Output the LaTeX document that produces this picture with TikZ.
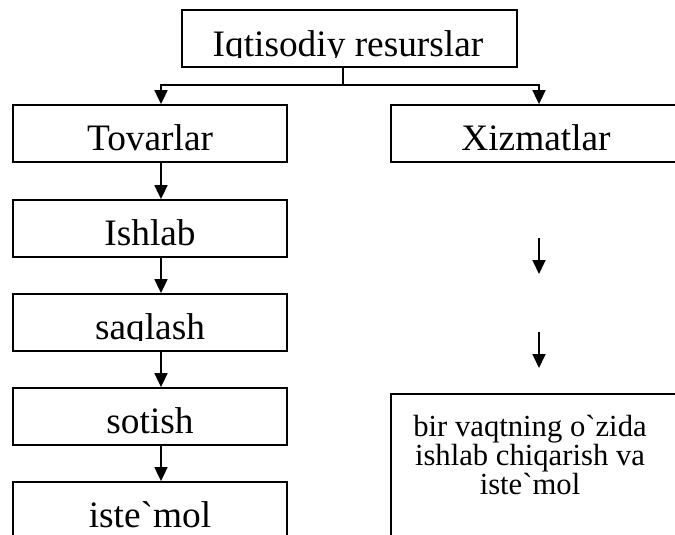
\documentclass[tikz,border=0pt]{standalone}
\usepackage{fontspec}
\setmainfont{Liberation Serif}[Ligatures=TeXOff]
\usetikzlibrary{arrows.meta,calc}

\tikzset{every picture/.style={line width=1.35pt}}
\tikzset{
  box/.style={draw, rectangle, inner sep=0pt, minimum width=205.5pt, minimum height=42.75pt,
    text height=24.75pt, text depth=0pt, font=\fontsize{28}{32}\selectfont},
  lbl/.style={inner sep=0pt, font=\fontsize{28}{32}\selectfont},
  arr/.style={-{Triangle[length=10.5pt,width=9.75pt]}}
}

\begin{document}
\begin{tikzpicture}[x=0.75pt,y=0.75pt,yscale=-1,xscale=1]
	\clip (0,0) rectangle (675,535);

	% Boxes
	\node[box, minimum width=251.25pt] (res) at (349.5,38.5) {};
	\node[box] (tov) at (150,133.5) {Tovarlar};
	\node[box, minimum width=217.5pt] (xiz) at (536,133.5) {Xizmatlar};
	\node[box] (ish) at (150,228.5) {Ishlab};
	\node[box] (saq) at (150,322.5) {};
	\node[box] (sot) at (150,416.5) {sotish};
	\node[box] (ist) at (150,510.5) {iste`mol};
	\node[box, minimum width=217.5pt, minimum height=127.5pt] (bir) at (536,479) {};

	% Text cut off at the bottom of its box
	\begin{scope}
		\clip (res.north west) rectangle ($(res.south east)+(0,-10)$);
		\node[lbl, anchor=base] (rest) at (348,57) {Iqtisodiy resurslar};
	\end{scope}
	\begin{scope}
		\clip (saq.north west) rectangle ($(saq.south east)+(0,-11)$);
		\node[lbl, anchor=base] (saqt) at (150,339) {saqlash};
	\end{scope}

	\node[font=\fontsize{23}{21.6}\selectfont, align=center, inner sep=0pt] (birt) at (530,455)
		{bir vaqtning o`zida\\ishlab chiqarish va\\iste`mol};

	% Connectors
	\coordinate (lx) at (161,0);
	\coordinate (rx) at (539,0);
	\coordinate (split) at (343,85);
	\draw (res.south -| split) -- (split);
	\draw[arr] (split) -| (tov.north -| lx);
	\draw[arr] (split) -| (xiz.north -| rx);
	\draw[arr] (tov.south -| lx) -- (ish.north -| lx);
	\draw[arr] (ish.south -| lx) -- (saq.north -| lx);
	\draw[arr] (saq.south -| lx) -- (sot.north -| lx);
	\draw[arr] (sot.south -| lx) -- (ist.north -| lx);

	% Loose arrows in the right column
	\coordinate (r1a) at (539,238);
	\coordinate (r1b) at (539,274);
	\coordinate (r2a) at (539,332);
	\coordinate (r2b) at (539,368);
	\draw[arr] (r1a) -- (r1b);
	\draw[arr] (r2a) -- (r2b);
\end{tikzpicture}
\end{document}
